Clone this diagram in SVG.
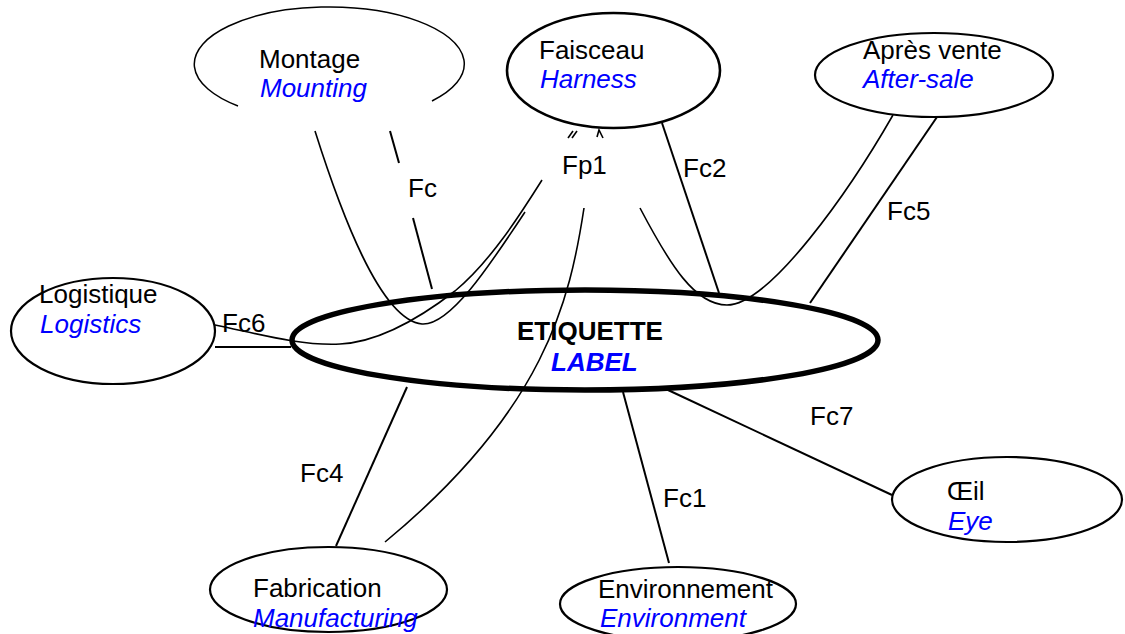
<svg xmlns="http://www.w3.org/2000/svg" width="1125" height="634" viewBox="0 0 1125 634">
<style>
  text { font-family: "Liberation Sans", Arial, sans-serif; font-size: 26px; fill: #000; }
  .en { font-style: italic; fill: #0000FF; }
  .node { fill: none; stroke: #000; stroke-width: 2.2; }
  .thin { fill: none; stroke: #000; stroke-width: 1.5; }
  .main { fill: none; stroke: #000; stroke-width: 5.5; }
  .conn path, .conn line, .conn polyline { fill: none; stroke: #000; stroke-width: 1.6; }
  .conn .st { stroke-width: 2; }
  .bold { font-weight: bold; }
</style>
<rect width="1125" height="634" fill="#fff"/>

<g id="connectors" class="conn">
  <!-- Montage curve -->
  <path d="M315,131 C340,210 380,320 422,324 C450,326 490,265 525,212"/>
  <!-- Fc (Montage to label) with label gap -->
  <line class="st" x1="390" y1="131" x2="399" y2="163"/>
  <line class="st" x1="413" y1="218" x2="432" y2="289"/>
  <!-- Fc6: Logistique curve -->
  <path d="M215,325 C255,333 300,346 340,344 C380,342 420,318 455,291 C490,262 520,215 542,180"/>
  <line class="st" x1="215" y1="347" x2="291" y2="347"/>
  <!-- Fp1 lower curve to Fabrication -->
  <path d="M584,208 C570,300 545,410 385,542"/>
  <!-- Faisceau / Après vente curve -->
  <path d="M640,208 C670,265 695,305 727,305 C770,305 850,190 893,115"/>
  <!-- Fc2 -->
  <line class="st" x1="662" y1="123" x2="719" y2="293"/>
  <!-- Fc5 -->
  <line class="st" x1="937" y1="117" x2="810" y2="303"/>
  <!-- Fc7 -->
  <line class="st" x1="668" y1="390" x2="892" y2="495"/>
  <!-- Fc1 -->
  <line class="st" x1="623" y1="392" x2="669" y2="563"/>
  <!-- Fc4 -->
  <line class="st" x1="407" y1="387" x2="336" y2="546"/>
  <!-- small marks under Faisceau -->
  <line x1="568" y1="138" x2="573" y2="131"/>
  <line x1="572" y1="138" x2="577" y2="131"/>
  <polyline points="597,137 599,130 603,138"/>
  <!-- labels -->
  <text x="408" y="197">Fc</text>
  <text x="562" y="174">Fp1</text>
  <text x="683" y="177">Fc2</text>
  <text x="887" y="220">Fc5</text>
  <text x="222" y="332">Fc6</text>
  <text x="300" y="482">Fc4</text>
  <text x="810" y="425">Fc7</text>
  <text x="663" y="507">Fc1</text>
</g>

<g id="montage">
  <path class="thin" d="M238,106 A135,57 0 1 1 432,101"/>
  <text x="259" y="68">Montage</text>
  <text class="en" x="260" y="97">Mounting</text>
</g>

<g id="faisceau">
  <ellipse class="node" cx="613.5" cy="70.5" rx="106.5" ry="57.5" style="stroke-width:2.6"/>
  <text x="539" y="59">Faisceau</text>
  <text class="en" x="540" y="88">Harness</text>
</g>

<g id="apres-vente">
  <ellipse class="node" cx="934" cy="75" rx="119" ry="42"/>
  <text x="863" y="59">Après vente</text>
  <text class="en" x="863" y="88">After-sale</text>
</g>

<g id="logistique">
  <ellipse class="node" cx="113" cy="331" rx="102" ry="53"/>
  <text x="39" y="303">Logistique</text>
  <text class="en" x="40" y="333">Logistics</text>
</g>

<g id="etiquette">
  <ellipse class="main" cx="585" cy="340" rx="293" ry="50"/>
  <text class="bold" x="517" y="340">ETIQUETTE</text>
  <text class="en bold" x="551" y="371">LABEL</text>
</g>

<g id="fabrication">
  <ellipse class="node" cx="328.5" cy="589.5" rx="118.5" ry="42.5"/>
  <text x="253" y="597">Fabrication</text>
  <text class="en" x="253" y="627">Manufacturing</text>
</g>

<g id="environnement">
  <ellipse class="node" cx="678" cy="604" rx="118" ry="37"/>
  <text x="598" y="598">Environnement</text>
  <text class="en" x="600" y="627">Environment</text>
</g>

<g id="oeil">
  <ellipse class="node" cx="1007" cy="499.5" rx="115" ry="42.5"/>
  <text x="947" y="500">Œil</text>
  <text class="en" x="948" y="530">Eye</text>
</g>
</svg>
